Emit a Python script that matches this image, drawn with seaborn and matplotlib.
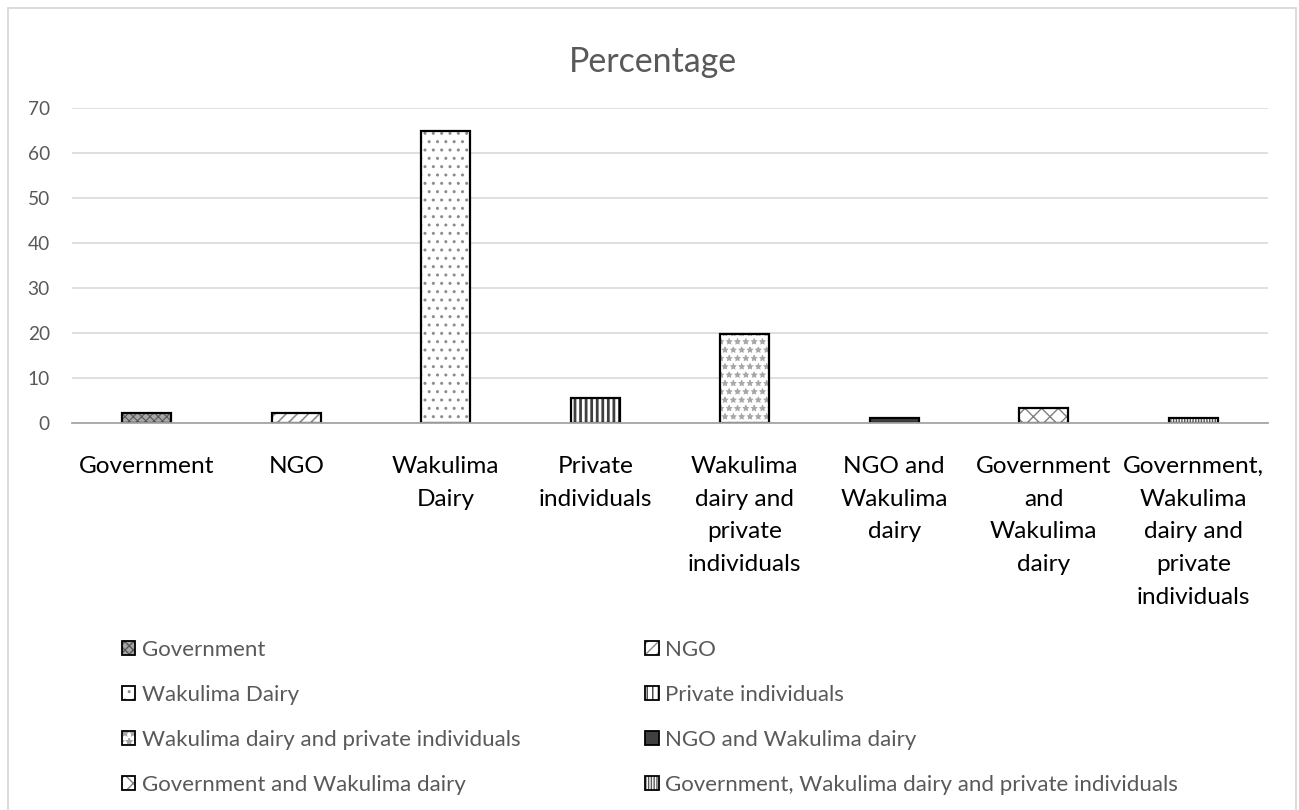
import matplotlib
matplotlib.use("Agg")
import matplotlib.pyplot as plt
import seaborn as sns
import pandas as pd
from matplotlib.patches import Rectangle, Patch
from matplotlib.font_manager import FontProperties

# ---------------- data ----------------
categories = [
    "Government",
    "NGO",
    "Wakulima Dairy",
    "Private individuals",
    "Wakulima dairy and private individuals",
    "NGO and Wakulima dairy",
    "Government and Wakulima dairy",
    "Government, Wakulima dairy and private individuals",
]
tick_labels = [
    "Government",
    "NGO",
    "Wakulima\nDairy",
    "Private\nindividuals",
    "Wakulima\ndairy and\nprivate\nindividuals",
    "NGO and\nWakulima\ndairy",
    "Government\nand\nWakulima\ndairy",
    "Government,\nWakulima\ndairy and\nprivate\nindividuals",
]
percentages = [2.2, 2.2, 64.8, 5.5, 19.8, 1.1, 3.3, 1.1]
y_ticks = [0, 10, 20, 30, 40, 50, 60, 70]

# ---------------- styles ----------------
face_colors = ["#a6a6a6", "white", "white", "white", "white", "#404040", "white", "white"]
hatches = ["xxxx", "///", "..", "|||", "**", "", "xx", "||||||"]
hatch_colors = ["#595959", "#8c8c8c", "#8c8c8c", "#404040", "#a6a6a6", "#404040", "#7f7f7f", "#595959"]
hatch_widths = [0.8, 1.2, 1.0, 2.0, 0.6, 1.0, 1.0, 1.0]

sns.set_theme(style="white")
FAMILY = ["Lato", "DejaVu Sans"]
plt.rcParams["font.family"] = FAMILY

W, H, DPI = 1299, 810, 100
fig = plt.figure(figsize=(W / DPI, H / DPI), dpi=DPI)
renderer = fig.canvas.get_renderer()


def fit_size(text, target_px):
    t = fig.text(0, 0, text, fontsize=10, family=FAMILY)
    w = t.get_window_extent(renderer).width
    t.remove()
    return 10 * target_px / w


title_fs = fit_size("Percentage", 168)
xlab_fs = fit_size("Government", 135)
ytick_fs = fit_size("70", 22)
leg_fs = fit_size("Wakulima dairy and private individuals", 377)

ax_left, ax_right, ax_top, ax_bottom = 72, 1268, 107.7, 423
ax = fig.add_axes([ax_left / W, 1 - ax_bottom / H, (ax_right - ax_left) / W, (ax_bottom - ax_top) / H])

df = pd.DataFrame({"cat": categories, "pct": percentages})
sns.barplot(data=df, x="cat", y="pct", hue="cat", order=categories, hue_order=categories,
            palette=face_colors, dodge=False, legend=False, width=0.326, ax=ax,
            saturation=1)
bar_patches = list(ax.patches)
for p, h, hc, hw, fc in zip(bar_patches, hatches, hatch_colors, hatch_widths, face_colors):
    p.set_hatch(h)
    p.set_edgecolor(hc)
    p.set_linewidth(0)
    p.set_facecolor(fc)
    try:
        p.set_hatch_linewidth(hw)
    except Exception:
        pass
    p.set_zorder(2)
    o = Rectangle((p.get_x(), p.get_y()), p.get_width(), p.get_height(), fill=False,
                  edgecolor="black", linewidth=1.6, zorder=3)
    ax.add_patch(o)

ax.set_ylim(0, 70)
ax.set_xlim(-0.5, len(categories) - 0.5)
ax.set_yticks(y_ticks)
ax.set_yticklabels([str(v) for v in y_ticks])
ax.set_xticks(range(len(categories)))

prop = FontProperties(family=FAMILY, size=xlab_fs)
_, lp_h, lp_d = renderer.get_text_width_height_descent("lp", prop, ismath=False)
linesp = 32.0 / (lp_h - lp_d) * (32.5 / 36.0)
ax.set_xticklabels(tick_labels, fontsize=xlab_fs, color="black", linespacing=linesp, va="top")

ax.tick_params(axis="x", length=0, pad=23.5)
ax.tick_params(axis="y", length=0, pad=16, labelsize=ytick_fs, labelcolor="#595959")
ax.set_xlabel("")
ax.set_ylabel("")
ax.grid(axis="y", color="#d9d9d9", linewidth=1.2, zorder=0)
ax.grid(axis="x", visible=False)
ax.set_axisbelow(True)
for s in ["top", "right", "left"]:
    ax.spines[s].set_visible(False)
ax.spines["bottom"].set_color("#a6a6a6")
ax.spines["bottom"].set_linewidth(1.3)
ax.spines["bottom"].set_zorder(4)
ax.set_facecolor("none")

fig.text(653 / W, 1 - 62 / H, "Percentage", ha="center", va="center",
         fontsize=title_fs, color="#595959")

handles = []
for fc, h, hc, hw in zip(face_colors, hatches, hatch_colors, hatch_widths):
    hp = Patch(facecolor=fc, hatch=h, edgecolor=hc, linewidth=0)
    try:
        hp.set_hatch_linewidth(hw)
    except Exception:
        pass
    op = Patch(facecolor="none", edgecolor="black", linewidth=1.3)
    handles.append((hp, op))
order = [0, 2, 4, 6, 1, 3, 5, 7]
leg_px = leg_fs * DPI / 72
fig.legend([handles[i] for i in order], [categories[i] for i in order],
           ncol=2, loc="upper left", bbox_to_anchor=(122 / W, 1 - 640 / H),
           bbox_transform=fig.transFigure, frameon=False, fontsize=leg_fs,
           labelcolor="#595959", handlelength=0.6, handleheight=0.6,
           handletextpad=0.3, columnspacing=5.6, labelspacing=0.85 + 6.0 / leg_px,
           borderpad=0, borderaxespad=0)

fig.patches.append(Rectangle((8 / W, -0.05), (1296 - 8) / W, 1.05 - 8.5 / H,
                             transform=fig.transFigure, fill=False,
                             edgecolor="#d9d9d9", linewidth=1.3))

fig.savefig("out.png", dpi=DPI, facecolor="white")
